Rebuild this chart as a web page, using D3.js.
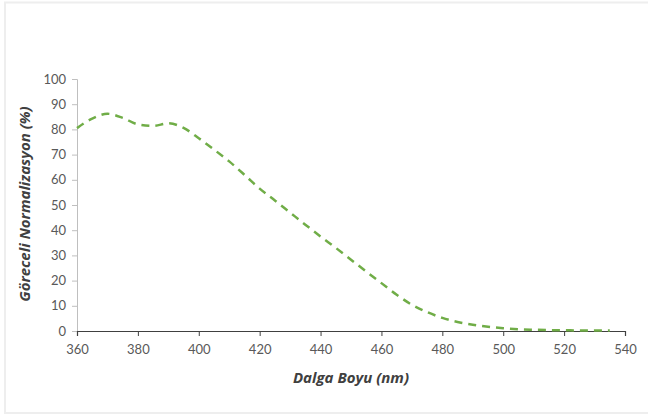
<html>
<script src="https://d3js.org/d3.v7.min.js"></script>
<body style="margin:0">
<svg width=648 height=419></svg>
<script>
// wavelength (nm) and relative normalized value (%)
var wavelengths = [360,365,370,375,380,385,390,395,400,405,410,415,420,425,430,435,440,445,450,455,460,465,470,475,480,485,490,495,500,505,510,515,520,525,530,535];
var values = [80.5,84.3,86.2,84.6,82,81.4,82.4,80.6,76.5,72,67.3,62,56.5,51.8,47,42.2,37.5,33,28.3,23.6,19,14.4,10.4,7.5,5.2,3.6,2.5,1.7,1.1,0.7,0.5,0.35,0.3,0.2,0.2,0.2];
var xTicks = [360,380,400,420,440,460,480,500,520,540];
var yTicks = [0,10,20,30,40,50,60,70,80,90,100];

var width = 648, height = 419;
var margin = {top: 79, right: 23, bottom: 88, left: 77};
var innerwidth = width - margin.left - margin.right;
var innerheight = height - margin.top - margin.bottom;
var data = wavelengths.map(function(w, i) { return {x: w, y: values[i]}; });

var svg = d3.select("svg");
svg.append("rect")
	.attr("x", 5).attr("y", 2.5)
	.attr("width", 650).attr("height", 410.5)
	.attr("fill", "white")
	.attr("stroke", "#eeeeee")
	.attr("stroke-width", 2);

var x = d3.scaleLinear().domain([360, 540]).range([0, innerwidth]);
var y = d3.scaleLinear().domain([0, 100]).range([innerheight, 0]);

var g = svg.append("g").attr("transform", "translate(" + margin.left + "," + margin.top + ")");

// y axis
var yAxis = g.append("g")
	.call(d3.axisLeft(y).tickValues(yTicks).tickSize(5).tickPadding(6));
yAxis.select(".domain").attr("stroke", "#bfbfbf");
yAxis.selectAll(".tick line").attr("stroke", "#bfbfbf");
yAxis.selectAll("text")
	.attr("fill", "#595959")
	.style("font-family", "Lato, 'Open Sans', sans-serif")
	.style("font-size", "13px");

// x axis
var xAxis = g.append("g")
	.attr("transform", "translate(0," + innerheight + ")")
	.call(d3.axisBottom(x).tickValues(xTicks).tickSize(5).tickSizeOuter(5).tickPadding(9));
xAxis.select(".domain").attr("stroke", "#404040").attr("stroke-width", 1.2);
xAxis.selectAll(".tick line").attr("stroke", "#404040");
xAxis.selectAll("text")
	.attr("fill", "#595959")
	.style("font-family", "Lato, 'Open Sans', sans-serif")
	.style("font-size", "13px");

// curve
var line = d3.line()
	.x(function(d) { return x(d.x); })
	.y(function(d) { return y(d.y); })
	.curve(d3.curveMonotoneX);
g.append("path")
	.datum(data)
	.attr("d", line)
	.attr("fill", "none")
	.attr("stroke", "#70ad47")
	.attr("stroke-width", 2.5)
	.attr("stroke-dasharray", "8,6");

// axis titles
svg.append("text")
	.attr("x", margin.left + innerwidth / 2)
	.attr("y", 383)
	.attr("text-anchor", "middle")
	.attr("fill", "#404040")
	.style("font-family", "'Open Sans', sans-serif")
	.style("font-size", "15px")
	.style("font-weight", "bold")
	.style("font-style", "italic")
	.text("Dalga Boyu (nm)");
svg.append("text")
	.attr("transform", "translate(30," + (margin.top + innerheight / 2 - 1) + ") rotate(-90)")
	.attr("text-anchor", "middle")
	.attr("fill", "#404040")
	.style("font-family", "'Open Sans', sans-serif")
	.style("font-size", "15px")
	.style("font-weight", "bold")
	.style("font-style", "italic")
	.text("Göreceli Normalizasyon (%)");
</script>
</body>
</html>
